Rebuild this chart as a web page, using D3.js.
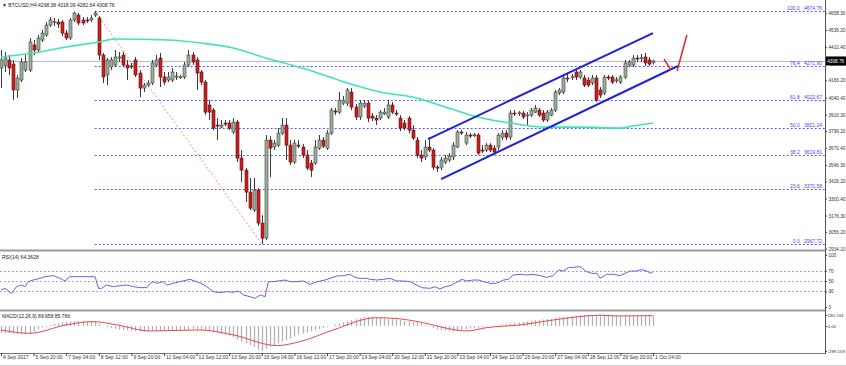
<!DOCTYPE html>
<html><head><meta charset="utf-8">
<script src="https://cdn.jsdelivr.net/npm/d3@7"></script>
<style>body{margin:0;background:#fff}svg{display:block;font-family:"Liberation Sans",Arial,sans-serif}</style>
</head><body><svg id="c" width="846" height="366"></svg>
<script>
// ---------------- DATA ----------------
const openP = [
4257,4272,4316,4286,4096,4169,4242,4242,4426,4389,
4462,4499,4572,4594,4594,4594,4513,4477,4609,4645,
4609,4609,4609,4645,4623,4352,4206,4264,4279,4330,
4352,4279,4272,4316,4220,4110,4132,4147,4279,4330,
4191,4169,4169,4191,4191,4191,4279,4352,4316,4228,
4154,3986,3949,3839,3824,3854,3854,3788,3861,3597,
3509,3348,3216,3363,3121,3011,3729,3678,3692,3780,
3839,3692,3568,3692,3678,3619,3561,3561,3670,3729,
3670,3780,3942,3934,4000,4000,4081,3971,3898,3978,
4000,3905,3890,3890,3920,3898,3986,3927,3890,3854,
3890,3802,3729,3619,3605,3678,3656,3531,3531,3568,
3583,3605,3678,3788,3707,3766,3766,3766,3656,3656,
3692,3670,3678,3751,3780,3751,3927,3927,3927,3912,
3912,3934,3949,3927,3876,3912,3949,4074,4081,4184,
4191,4228,4191,4184,4169,4147,4184,4096,4074,4191,
4191,4169,4154,4191,4279,4279,4330,4330,4338,4316,
4298.38];
const highP = [
4389,4374,4352,4316,4206,4330,4352,4477,4462,4499,
4535,4594,4631,4623,4616,4609,4535,4623,4670,4660,
4631,4631,4645,4674.76,4638,4367,4330,4338,4389,4374,
4374,4316,4294,4338,4242,4147,4169,4316,4352,4367,
4228,4228,4257,4228,4206,4301,4389,4374,4338,4242,
4169,4022,3964,3890,3876,3876,3876,3890,3876,3656,
3524,3451,3451,3377,3179,3766,3758,3729,3817,3890,
3890,3729,3729,3729,3700,3656,3583,3729,3766,3751,
3802,3964,3964,4081,4052,4110,4110,3993,4022,4022,
4022,3927,3912,3949,3964,4022,4008,3949,3912,3876,
3905,3839,3751,3656,3729,3751,3670,3546,3605,3619,
3634,3714,3802,3802,3788,3780,3780,3780,3692,3707,
3707,3692,3780,3802,3802,3949,3949,3942,3942,3934,
3964,3986,3964,3949,3949,3964,4096,4110,4206,4213,
4213,4242,4242,4206,4191,4206,4206,4118,4206,4206,
4206,4191,4206,4316,4316,4352,4352,4360,4367,4338,
4318.09];
const lowP = [
4110,4228,4206,4022,4037,4154,4228,4228,4352,4374,
4448,4484,4557,4565,4550,4491,4462,4462,4594,4572,
4572,4587,4594,4631,4316,4147,4132,4242,4264,4301,
4264,4169,4250,4191,4044,4081,4118,4132,4264,4118,
4132,4154,4154,4169,4176,4176,4264,4279,4096,4132,
3912,3876,3802,3729,3817,3832,3802,3773,3568,3421,
3275,3216,3201,3099,2967.72,2996,3458,3656,3678,3766,
3583,3546,3553,3670,3597,3509,3458,3546,3656,3670,
3656,3766,3912,3920,3986,3978,3949,3876,3876,3964,
3861,3868,3839,3876,3912,3883,3920,3905,3795,3802,
3780,3729,3597,3568,3583,3641,3509,3495,3509,3553,
3568,3583,3670,3766,3692,3744,3751,3619,3634,3641,
3641,3619,3656,3729,3729,3729,3905,3905,3883,3839,
3898,3927,3898,3861,3861,3905,3934,4059,4066,4154,
4169,4169,4176,4118,4118,4132,4008,4037,4059,4169,
4140,4147,4140,4176,4264,4264,4301,4301,4272,4272,
4282.64];
const closeP = [
4316,4330,4257,4096,4184,4301,4301,4448,4389,4477,
4513,4572,4609,4596,4579,4513,4477,4609,4660,4587,
4587,4607,4623,4660,4352,4191,4316,4316,4338,4338,
4279,4257,4270,4206,4110,4132,4147,4294,4316,4191,
4154,4191,4228,4198,4193,4279,4352,4301,4220,4154,
3934,3934,3817,3837,3839,3846,3817,3861,3597,3509,
3348,3231,3363,3121,3011,3729,3670,3707,3780,3839,
3692,3568,3707,3690,3619,3524,3509,3678,3729,3685,
3780,3949,3940,4022,4022,4096,3971,3898,4000,4000,
3890,3890,3876,3934,3934,3986,3934,3925,3817,3817,
3802,3744,3619,3597,3678,3656,3531,3524,3583,3597,
3612,3692,3788,3786,3766,3764,3768,3634,3654,3692,
3656,3641,3766,3780,3751,3927,3925,3929,3898,3914,
3949,3964,3912,3876,3934,3949,4081,4096,4184,4182,
4193,4191,4228,4132,4132,4184,4022,4059,4191,4189,
4154,4171,4191,4294,4301,4330,4328,4332,4294,4286,
4308.76];

// moving average: [bar index, price]
const maPoints = [[0,4338],[8,4367],[16,4411],[24,4448],[28,4470],[41,4462],[49,4440],[57,4404],[65,4330],[73,4264],[77,4228],[85,4147],[93,4081],[101,4044],[109,3971],[117,3898],[125,3854],[134,3824],[142,3824],[152,3817],[155,3832],[160,3854]];

// Fibonacci retracement
const fibLevels = [100.0, 76.4, 61.8, 50.0, 38.2, 23.6, 0.0];
const fibPrices = [4674.76, 4271.90, 4022.67, 3821.24, 3619.81, 3370.58, 2967.72];
const fibStart = 23;
const fibDiagonal = [[23,4674.76],[64,2967.72]];

// drawn channel & arrow
const channelUpper = [[104.8,3736],[160,4513]];
const channelLower = [[108,3443],[166.1,4272]];
const arrowDown = [[162.7,4323],[164.4,4242]];
const arrowUp = [[165.9,4235],[168.3,4499]];

const priceTicks = [4658.30,4536.20,4410.40,4288.30,4166.20,4040.40,3916.30,3796.20,3670.40,3546.30,3426.20,3300.40,3176.30,3056.20,2934.10];
const lastPrice = 4308.76;

// RSI(14): [bar index, value]
const rsiPoints = [[0,32.7],[1,35.9],[2.6,26.3],[3.8,39.1],[5.1,42.3],[5.9,39.1],[6.7,48.7],[7.9,51.9],[9.6,55.1],[10.8,58.3],[12.8,60.3],[14.5,55.1],[15.7,50],[16.9,58.3],[18.6,58.3],[20.2,58.3],[21.8,58.3],[23.1,58.3],[23.9,35.9],[24.7,35.9],[25.9,42.3],[27.6,39.1],[29.2,41],[30.8,42.3],[32.5,39.1],[34.1,37.2],[35.8,37.2],[36.6,45.5],[37.4,48.7],[38.2,45.5],[39.8,48.7],[40.7,42.3],[42.3,45.5],[43.9,48.7],[45.6,51.9],[46.4,53.2],[48,48.7],[49.6,43.6],[50.5,39.1],[52.1,29.5],[53.7,27.6],[55.4,29.5],[57,28.2],[58.2,30.8],[59.5,23.1],[61.1,19.9],[62.3,16.7],[63.6,23.1],[64.8,19.9],[65.6,48.7],[66.8,48.7],[68.5,50.6],[69.7,51.9],[70.9,48.7],[72.6,48.7],[74.2,50],[75.8,43.6],[77.1,47.4],[78.3,50],[79.5,51.9],[80.7,55.1],[82.4,59.6],[84,60.3],[85.6,62.8],[86.9,57],[88.1,55.1],[89.7,55.1],[90.6,53.2],[92.2,51.9],[93.8,53.2],[95.5,55.1],[97.1,50],[98.7,50],[100.4,48.7],[102,42.3],[103.2,37.2],[105.3,35.9],[106.5,39.1],[107.7,34.6],[109,39.1],[110.2,41],[111.8,47.4],[113.1,53.2],[114.3,50],[115.9,51.9],[117.1,51.9],[118.4,48.7],[120,45.5],[121.6,45.5],[123.3,51.9],[124.5,53.2],[125.7,61.5],[127.4,62.8],[129,61.5],[130.6,62.8],[132.3,60.3],[133.9,57],[135.5,60.3],[136.8,71.2],[138,69.2],[139.2,75.6],[140.4,76.3],[142.1,77.6],[143.7,67.9],[145,64.7],[146.2,64.7],[147,55.1],[148.6,62.8],[150.3,62.8],[151.9,60.3],[153.1,64.7],[154.4,69.2],[156,69.2],[157.2,71.8],[158.5,69.2],[159.3,64.7],[160,67.9]];
const rsiLevels = [70, 50, 30];
const rsiTicks = [100, 70, 50, 30, 0];

// MACD(12,26,9) main histogram per bar
const macdHist = [
-85,-88,-90,-92,-95,-98,-100,-95,-70,-40,
-20,-8,10,22,32,40,50,55,58,60,
62,60,58,55,22,5,-12,-22,-35,-45,
-50,-55,-58,-60,-64,-66,-62,-58,-56,-58,
-60,-60,-60,-58,-55,-50,-42,-38,-40,-42,
-55,-65,-78,-88,-95,-105,-115,-135,-160,-185,
-210,-230,-250,-280,-299,-270,-245,-228,-205,-185,
-170,-150,-125,-105,-92,-80,-65,-50,-38,-25,
-12,0,15,30,45,58,70,82,95,105,
110,108,100,95,92,88,82,78,72,62,
55,50,42,30,15,-5,-25,-40,-48,-55,
-62,-68,-60,-50,-40,-30,-25,-20,-15,-8,
-5,0,5,12,20,30,38,42,50,55,
62,70,74,78,82,85,92,100,105,110,
112,120,128,130,130,130,130,128,125,122,
122,120,118,118,118,120,120,120,118,118,
118];
// MACD signal line: [bar index, value]
const macdSignal = [[0,-48],[7,-88],[16,12],[22.6,52],[28.5,12],[36.6,-60],[48.8,-48],[57,-107],[67.7,-235],[73.4,-187],[81.5,-48],[92.2,99],[98,84],[105.3,20],[109.4,-28],[114.3,-60],[119.2,-20],[127.4,12],[135.6,72],[147,128],[151.9,119],[160,123]];
const macdTicks = [130.744, 0, -299.159];
const macdTickText = ["130.744","0.00","-299.159"];

const timeIdx = [0,8,16,24,32,40,48,56,64,72,80,88,96,104,112,120,128,136,144,152,160];
const timeLabels = ["4 Sep 2017","5 Sep 20:00","7 Sep 04:00","8 Sep 12:00","9 Sep 20:00","11 Sep 04:00","12 Sep 12:00","13 Sep 20:00","15 Sep 04:00","16 Sep 12:00","17 Sep 20:00","19 Sep 04:00","20 Sep 12:00","21 Sep 20:00","23 Sep 04:00","24 Sep 12:00","25 Sep 20:00","27 Sep 04:00","28 Sep 12:00","29 Sep 20:00","1 Oct 04:00"];

// ---------------- DRAW ----------------
const svg = d3.select('#c');
const AX = 825;
const FS = 4.7;
const x = d3.scaleLinear().domain([0, 202.2]).range([1, AX]);
const yP = d3.scaleLinear().domain([2967.72, 4674.76]).range([244, 11]);
const yR = d3.scaleLinear().domain([0, 100]).range([307, 255]);
const yM = d3.scaleLinear().domain([-299.159, 130.744]).range([351, 315]);

svg.append('rect').attr('width',846).attr('height',366).attr('fill','#fff');

const defs = svg.append('defs');
defs.append('clipPath').attr('id','cm').append('rect').attr('x',0).attr('y',0).attr('width',AX).attr('height',249);
const main = svg.append('g').attr('clip-path','url(#cm)');

// current price line
main.append('line').attr('x1',0).attr('x2',AX).attr('y1',yP(lastPrice)+0.5).attr('y2',yP(lastPrice)+0.5)
  .attr('stroke','#b8b8c0').attr('stroke-width',1);

// fib lines
fibPrices.forEach((p,i)=>{
  const yy = Math.round(yP(p))+0.5;
  main.append('line').attr('x1',x(fibStart)).attr('x2',AX).attr('y1',yy).attr('y2',yy)
    .attr('stroke','#5a5af0').attr('stroke-width',1).attr('stroke-dasharray','2,2');
  main.append('text').attr('x',AX-3).attr('y',yy-1.5).attr('text-anchor','end')
    .attr('font-size',5).attr('fill','#4646ee')
    .text(fibLevels[i].toFixed(1)+'\u00a0\u00a0\u00a0'+p.toFixed(2));
});

// diagonal fib line
const lineP = d3.line().x(d=>x(d[0])).y(d=>yP(d[1]));
main.append('path').attr('d',lineP(fibDiagonal)).attr('fill','none')
  .attr('stroke','#f28a8a').attr('stroke-width',1).attr('stroke-dasharray','2,2');

// candles
const candles = main.append('g');
openP.forEach((o,i)=>{
  const c = closeP[i], h = highP[i], l = lowP[i];
  const cx = Math.round(x(i))+0.5;
  candles.append('line').attr('x1',cx).attr('x2',cx).attr('y1',yP(h)).attr('y2',yP(l))
    .attr('stroke','#3a3a3a').attr('stroke-width',1);
  const top = yP(Math.max(o,c)), bot = yP(Math.min(o,c));
  const bull = c >= o;
  candles.append('rect').attr('x',cx-1.5).attr('y',top).attr('width',3).attr('height',Math.max(1,bot-top))
    .attr('fill', bull ? '#9cb09c' : '#cc1f1f')
    .attr('stroke', bull ? '#3c463c' : '#5a1010').attr('stroke-width',0.6);
});

// moving average
main.append('path').attr('d', d3.line().x(d=>x(d[0])).y(d=>yP(d[1])).curve(d3.curveMonotoneX)(maPoints))
  .attr('fill','none').attr('stroke','#3fe3b6').attr('stroke-width',1.6);

// channel
[channelUpper, channelLower].forEach(ch=>{
  main.append('path').attr('d',lineP(ch)).attr('fill','none').attr('stroke','#2020d8').attr('stroke-width',2);
});
// red arrow strokes
[arrowDown, arrowUp].forEach(a=>{
  main.append('path').attr('d',lineP(a)).attr('fill','none').attr('stroke','#e8262a').attr('stroke-width',1.5);
});

// title
svg.append('text').attr('x',2).attr('y',7).attr('font-size',5).attr('fill','#222')
  .text('\u25BC BTCUSD,H4  4298.38 4318.09 4282.64 4308.76');

function styleAxis(g){
  g.select('.domain').remove();
  g.selectAll('text').attr('font-size',FS).attr('fill','#333');
  g.selectAll('line').attr('stroke','#444');
}

// price axis
const pAxis = svg.append('g').attr('transform',`translate(${AX},0)`)
  .call(d3.axisRight(yP).tickValues(priceTicks).tickFormat(d3.format('.2f')).tickSize(2).tickPadding(1.5));
styleAxis(pAxis);

// current price box (covers the tick label beneath it, as in the terminal)
svg.append('rect').attr('x',AX+1).attr('y',yP(lastPrice)-4.5).attr('width',20).attr('height',9).attr('fill','#000');
svg.append('text').attr('x',AX+2.2).attr('y',yP(lastPrice)+1.8).attr('font-size',FS).attr('fill','#fff').text(lastPrice.toFixed(2));

// panel separators
[250,310].forEach(yy=>{
  svg.append('line').attr('x1',0).attr('x2',AX).attr('y1',yy+0.5).attr('y2',yy+0.5).attr('stroke','#9a9a9a').attr('stroke-width',2);
});
svg.append('line').attr('x1',0).attr('x2',AX+1).attr('y1',353.5).attr('y2',353.5).attr('stroke','#777').attr('stroke-width',1);
svg.append('line').attr('x1',AX+0.5).attr('x2',AX+0.5).attr('y1',0).attr('y2',354).attr('stroke','#555').attr('stroke-width',1);
svg.append('line').attr('x1',0).attr('x2',846).attr('y1',365.5).attr('y2',365.5).attr('stroke','#ccc').attr('stroke-width',1);

// RSI panel
svg.append('text').attr('x',2).attr('y',259).attr('font-size',5).attr('fill','#222').text('RSI(14) 64.3628');
rsiLevels.forEach(v=>{
  svg.append('line').attr('x1',0).attr('x2',AX).attr('y1',Math.round(yR(v))+0.5).attr('y2',Math.round(yR(v))+0.5)
    .attr('stroke','#c98be3').attr('stroke-width',1).attr('stroke-dasharray','2,2');
});
svg.append('path').attr('d', d3.line().x(d=>x(d[0])).y(d=>yR(d[1]))(rsiPoints))
  .attr('fill','none').attr('stroke','#6464dc').attr('stroke-width',1);
const rAxis = svg.append('g').attr('transform',`translate(${AX},0)`)
  .call(d3.axisRight(yR).tickValues(rsiTicks).tickFormat(d3.format('d')).tickSize(2).tickPadding(1.5));
styleAxis(rAxis);

// MACD panel
svg.append('text').attr('x',2).attr('y',318).attr('font-size',5).attr('fill','#222').text('MACD(12,26,9) 89.658 85.766');
const hg = svg.append('g');
macdHist.forEach((v,i)=>{
  const cx = Math.round(x(i))+0.5;
  hg.append('line').attr('x1',cx).attr('x2',cx).attr('y1',yM(0)).attr('y2',yM(v))
    .attr('stroke','#b2b2b2').attr('stroke-width',1.3);
});
svg.append('path').attr('d', d3.line().x(d=>x(d[0])).y(d=>yM(d[1])).curve(d3.curveMonotoneX)(macdSignal))
  .attr('fill','none').attr('stroke','#e84848').attr('stroke-width',1);
const mAxis = svg.append('g').attr('transform',`translate(${AX},0)`)
  .call(d3.axisRight(yM).tickValues(macdTicks).tickFormat((d,i)=>macdTickText[i]).tickSize(2).tickPadding(0.5));
styleAxis(mAxis);
mAxis.selectAll('text').attr('font-size',4.4);

// time axis
const tAxis = svg.append('g').attr('transform','translate(0,353)')
  .call(d3.axisBottom(x).tickValues(timeIdx).tickFormat((d,i)=>timeLabels[i]).tickSize(3).tickPadding(1));
styleAxis(tAxis);
tAxis.selectAll('text').attr('font-size',5).attr('text-anchor','start').attr('dx',1.5).attr('y',2.5);
</script></body></html>
